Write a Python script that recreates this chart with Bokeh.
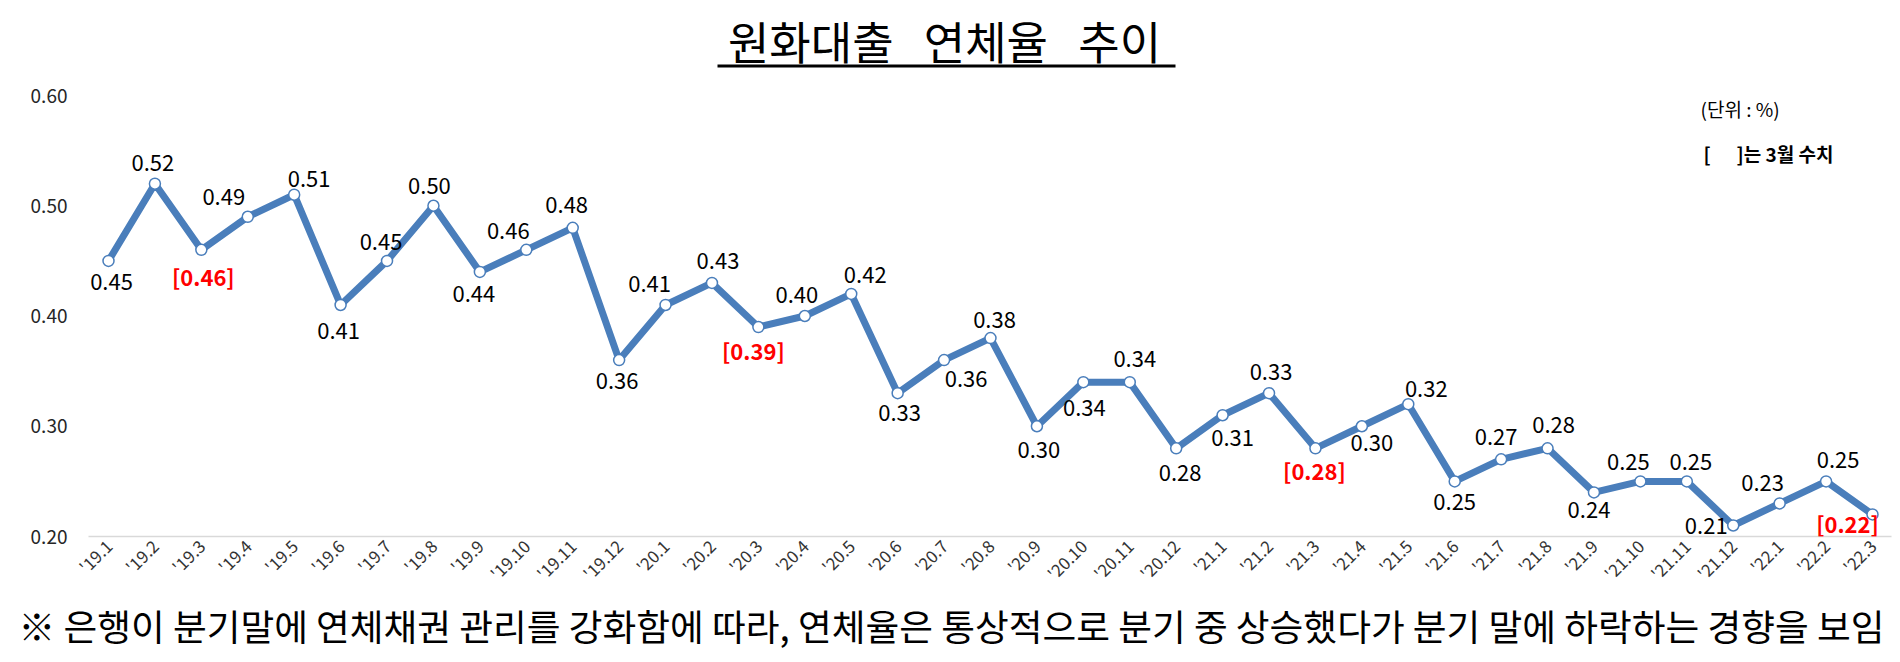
import math
from bokeh.plotting import figure
from bokeh.layouts import column
from bokeh.models import (ColumnDataSource, LabelSet, Label, FixedTicker, Range1d,
                          BoxAnnotation, PrintfTickFormatter, Title)
from bokeh.core.properties import value
from bokeh.embed import file_html
from bokeh.resources import INLINE

# ---------------- data ----------------
months = ["'19.1", "'19.2", "'19.3", "'19.4", "'19.5", "'19.6", "'19.7", "'19.8", "'19.9",
          "'19.10", "'19.11", "'19.12",
          "'20.1", "'20.2", "'20.3", "'20.4", "'20.5", "'20.6", "'20.7", "'20.8", "'20.9",
          "'20.10", "'20.11", "'20.12",
          "'21.1", "'21.2", "'21.3", "'21.4", "'21.5", "'21.6", "'21.7", "'21.8", "'21.9",
          "'21.10", "'21.11", "'21.12",
          "'22.1", "'22.2", "'22.3"]
rates = [0.45, 0.52, 0.46, 0.49, 0.51, 0.41, 0.45, 0.50, 0.44, 0.46, 0.48, 0.36,
         0.41, 0.43, 0.39, 0.40, 0.42, 0.33, 0.36, 0.38, 0.30, 0.34, 0.34, 0.28,
         0.31, 0.33, 0.28, 0.30, 0.32, 0.25, 0.27, 0.28, 0.24, 0.25, 0.25, 0.21,
         0.23, 0.25, 0.22]
y_ticks = [0.20, 0.30, 0.40, 0.50, 0.60]

title_text = "원화대출 \u00a0\u00a0연체율 \u00a0\u00a0추이"
unit_text = "(단위 : %)"
legend_text = "[\u00a0\u00a0\u00a0\u00a0\u00a0\u00a0]는 3월 수치"
note_text = ("※ 은행이 분기말에 연체채권 관리를 강화함에 따라, 연체율은 통상적으로 "
             "분기 중 상승했다가 분기 말에 하락하는 경향을 보임")

# label placement (dx, dy up) in pixels
LABEL_OFFSETS = [(3, -21), (-2, 21), (2, -26), (-24, 20), (15, 16), (-2, -26), (-6, 19),
                 (-4, 20), (-6, -22), (-18, 19), (-6, 23), (-2, -21),
                 (-16, 21), (6, 22), (-5, -23), (-8, 21), (14, 19), (2, -20), (22, -19),
                 (4, 18), (2, -24), (1, -26), (5, 23), (4, -25),
                 (10, -23), (2, 21), (-1, -22), (10, -17), (18, 15), (0, -21), (-5, 22),
                 (6, 23), (-5, -18), (-12, 19), (4, 19), (-27, -1),
                 (-17, 20), (12, 21), (-25, -9)]

# ---------------- layout (page pixels) ----------------
W, H = 1900, 662
TITLE_H = 80
FL, FR, FT, FB = 88, 1891, 95, 536       # main plotting frame
P0, P1 = 108, 1872                       # x of first / last category
n = len(months)
step = (P1 - P0) / (n - 1)
XS = -(P0 - FL) / step
XE = (n - 1) + (FR - P1) / step
YS, YE = 0.2, 0.6


def cx(px):
    return XS + (px - FL) / (FR - FL) * (XE - XS)


def cy(py):
    return YS + (FB - py) / (FB - FT) * (YE - YS)


FONT = "Noto Sans CJK KR"
BLUE = "#4A7EBB"

idx = list(range(n))
is_march = [m.endswith(".3") for m in months]
texts = [("[%.2f]" % v) if mk else ("%.2f" % v) for v, mk in zip(rates, is_march)]

src = ColumnDataSource(dict(
    x=idx, y=rates, text=texts,
    color=["#FF0000" if mk else "#000000" for mk in is_march],
    style=["bold" if mk else "normal" for mk in is_march],
    dx=[o[0] for o in LABEL_OFFSETS], dy=[o[1] for o in LABEL_OFFSETS],
))

# ---- title figure (its frame is aligned with the main frame: FL..FR) ----
tf = figure(width=W, height=TITLE_H, output_backend="svg", toolbar_location=None,
            x_range=Range1d(FL, FR), y_range=Range1d(TITLE_H, 0),
            x_axis_type=None, y_axis_type=None, min_border=0)
tf.outline_line_color = None
tf.xgrid.visible = False
tf.ygrid.visible = False
tf.add_layout(Label(x=944, y=40, text=title_text, text_align="center",
                    text_baseline="middle", text_font=FONT, text_font_size="45px",
                    text_color="#000000"))
tf.add_layout(BoxAnnotation(left=717, right=1175, top=64, bottom=67,
                            fill_color="#000000", fill_alpha=1.0, line_color=None))

# ---- main chart ----
p = figure(frame_width=FR - FL, frame_height=FB - FT, output_backend="svg",
           toolbar_location=None,
           x_range=Range1d(XS, XE), y_range=Range1d(YS, YE),
           min_border_left=FL, min_border_right=W - FR,
           min_border_top=FT - TITLE_H, min_border_bottom=H - FB)
p.outline_line_color = None
p.background_fill_color = "white"
p.border_fill_color = "white"
p.xgrid.visible = False
p.ygrid.visible = False

p.line("x", "y", source=src, line_color=BLUE, line_width=7, line_join="round")
p.scatter("x", "y", source=src, size=11, fill_color="white", line_color=BLUE, line_width=1.5)

labels = LabelSet(x="x", y="y", text="text", source=src,
                  x_offset="dx", y_offset="dy",
                  text_align="center", text_baseline="middle",
                  text_font=value(FONT), text_font_size=value("22px"),
                  text_color="color", text_font_style="style")
p.add_layout(labels)

p.xaxis.ticker = FixedTicker(ticks=idx)
p.xaxis.major_label_overrides = {i: m for i, m in enumerate(months)}
p.xaxis.major_label_orientation = math.pi / 4
p.xaxis.major_label_text_font = FONT
p.xaxis.major_label_text_font_size = "17px"
p.xaxis.major_label_text_color = "#333333"
p.xaxis.major_label_standoff = 6
p.xaxis.axis_line_color = "#D9D9D9"
p.xaxis.axis_line_width = 1.5
p.xaxis.major_tick_line_color = None
p.xaxis.minor_tick_line_color = None
p.xaxis.major_tick_out = 0
p.xaxis.major_tick_in = 0

p.yaxis.ticker = FixedTicker(ticks=y_ticks)
p.yaxis.formatter = PrintfTickFormatter(format="%.2f")
p.yaxis.major_label_text_font = FONT
p.yaxis.major_label_text_font_size = "19px"
p.yaxis.major_label_text_color = "#262626"
p.yaxis.major_label_standoff = 21
p.yaxis.axis_line_color = None
p.yaxis.major_tick_line_color = None
p.yaxis.minor_tick_line_color = None
p.yaxis.major_tick_out = 0
p.yaxis.major_tick_in = 0

p.add_layout(Label(x=cx(1700), y=cy(108), text=unit_text, text_align="left",
                   text_baseline="middle", text_font=FONT, text_font_size="19px",
                   text_color="#000000"))
p.add_layout(Label(x=cx(1703), y=cy(153), text=legend_text, text_align="left",
                   text_baseline="middle", text_font=FONT, text_font_size="19px",
                   text_font_style="bold", text_color="#000000"))

# bottom note as a title below the x axis
note = Title(text=note_text, align="left", offset=18 - FL, vertical_align="middle",
             text_font=FONT, text_font_size="36.7px", text_font_style="normal",
             text_color="#000000", standoff=0)
p.add_layout(note, "below")

layout = column(tf, p, spacing=0)
open("out.html", "w").write(file_html(layout, INLINE))
